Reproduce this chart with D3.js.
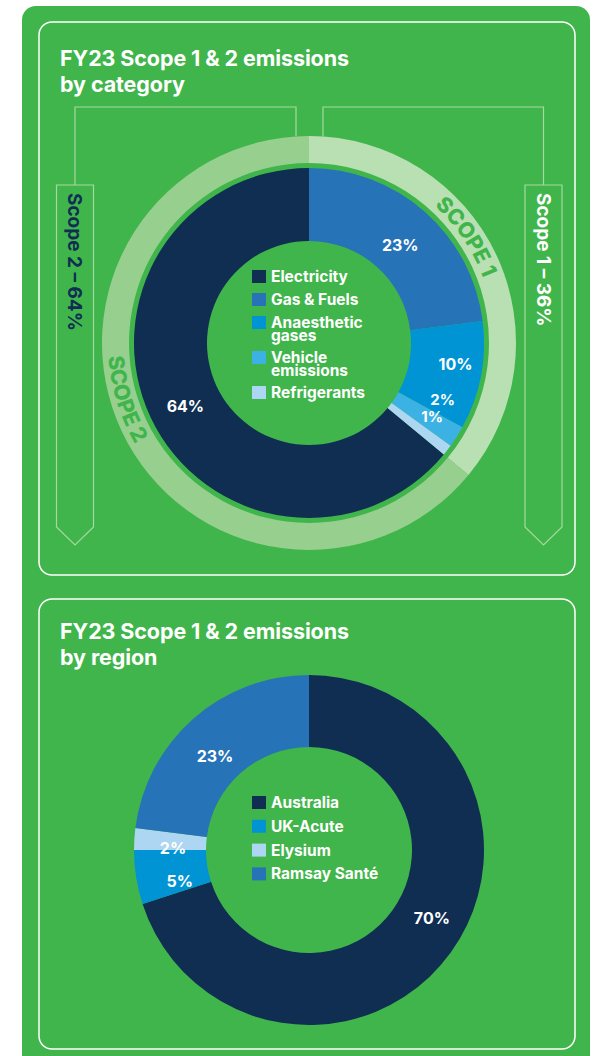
<!DOCTYPE html>
<html>
<head>
<meta charset="utf-8">
<script src="https://cdn.jsdelivr.net/npm/d3@7"></script>
<style>
  html, body { margin: 0; padding: 0; background: #ffffff; }
  svg { display: block; }
  text, textPath, tspan { font-family: Inter, "Open Sans", sans-serif; font-weight: 700; }
</style>
</head>
<body>
<svg id="chart" width="600" height="1056"></svg>
<script>
// ---------- DATA ----------
const titleLines1 = ["FY23 Scope 1 & 2 emissions", "by category"];
const categories = ["Electricity", "Gas & Fuels", "Anaesthetic gases", "Vehicle emissions", "Refrigerants"];
const categoryValues = [64, 23, 10, 2, 1];
const scopes = ["Scope 1", "Scope 2"];
const scopeValues = [36, 64];
const scopeRingLabels = ["SCOPE 1", "SCOPE 2"];
const scopeSideLabels = ["Scope 1 – 36%", "Scope 2 – 64%"];

const titleLines2 = ["FY23 Scope 1 & 2 emissions", "by region"];
const regions = ["Australia", "UK-Acute", "Elysium", "Ramsay Santé"];
const regionValues = [70, 5, 2, 23];

// ---------- STYLE / LAYOUT ----------
const GREEN = "#40b54b";
const NAVY = "#0f2e52";
const catColors = [NAVY, "#2673b8", "#0094d4", "#3cb1e4", "#acd6f1"];
const regionColors = [NAVY, "#0094d4", "#acd6f1", "#2673b8"];
const scopeColors = ["#b9e0b2", "#97cf8f"];
const legendWrap = { "Anaesthetic gases": ["Anaesthetic", "gases"], "Vehicle emissions": ["Vehicle", "emissions"] };
// label placement: [angle shift in degrees from centroid, radius, font size]
const catLabelPos = [[-2, 139, 16], [1.5, 134, 16], [-2.6, 148, 16], [-9.6, 145, 15], [-6.9, 143.6, 15]];
const regionLabelPos = [[-7, 140.5, 16], [-4.8, 133, 16], [-2.9, 136, 16], [-3.6, 133, 16]];

const svg = d3.select("#chart");
const rad = d => d * Math.PI / 180;

// Outer green panel
svg.append("rect").attr("x", 22).attr("y", 6).attr("width", 568).attr("height", 1070)
  .attr("rx", 14).attr("fill", GREEN);

// Inner white-bordered panels
[[39, 22, 536, 553], [39, 599, 536, 450]].forEach(p => {
  svg.append("rect").attr("x", p[0]).attr("y", p[1]).attr("width", p[2]).attr("height", p[3])
    .attr("rx", 13).attr("fill", "none").attr("stroke", "#ffffff").attr("stroke-width", 1.5);
});

function title(lines, x, y) {
  const t = svg.append("text").attr("x", x).attr("y", y).attr("fill", "#fff")
    .attr("font-size", 21.5).attr("letter-spacing", -0.1);
  lines.forEach((l, i) => t.append("tspan").attr("x", x).attr("dy", i === 0 ? 0 : 26).text(l));
}
title(titleLines1, 60, 66);
title(titleLines2, 60, 639);

// ---------- CHART 1 ----------
const c1 = { x: 309, y: 343 };
const g1 = svg.append("g").attr("transform", `translate(${c1.x},${c1.y})`);

// brackets
const lineCol = "#a6d9a0";
const brackets = [
  { inner: -13, outer: -234 },
  { inner: 14, outer: 234.5 }
];
brackets.forEach(b => {
  const xi = b.inner, xo = b.outer;
  g1.append("path")
    .attr("d", `M${xi},${-207} V${-236} H${xo} V${-158}`)
    .attr("fill", "none").attr("stroke", lineCol).attr("stroke-width", 1.2);
  const hw = 18.5;
  g1.append("path")
    .attr("d", `M${xo - hw},${-158} H${xo + hw} V${184} L${xo},${202} L${xo - hw},${184} Z`)
    .attr("fill", "none").attr("stroke", lineCol).attr("stroke-width", 1.2);
});

// side labels (rotated)
const sideX = [234.5, -234];
const sideFill = ["#ffffff", NAVY];
scopeSideLabels.forEach((s, i) => {
  g1.append("text")
    .attr("transform", `translate(${sideX[i] - 7},${-150}) rotate(90)`)
    .attr("font-size", 19).attr("fill", sideFill[i])
    .text(s);
});

// scope ring
const scopePie = d3.pie().sort(null).value(d => d)(scopeValues);
const ringArc = d3.arc().innerRadius(180).outerRadius(207);
g1.selectAll("path.ring").data(scopePie).join("path").attr("class", "ring")
  .attr("d", ringArc).attr("fill", (d, i) => scopeColors[i]);

// ring labels along arcs
function arcPath(r, a0, a1, cw) {
  const p0 = [r * Math.sin(a0), -r * Math.cos(a0)];
  const p1 = [r * Math.sin(a1), -r * Math.cos(a1)];
  const large = Math.abs(a1 - a0) > Math.PI ? 1 : 0;
  return `M${p0[0]},${p0[1]} A${r},${r} 0 ${large} ${cw ? 1 : 0} ${p1[0]},${p1[1]}`;
}
scopePie.forEach((d, i) => {
  const mid = i === 0 ? rad(56) : rad(253);
  const cw = i === 0;
  const r = cw ? 186 : 201;
  const span = rad(60);
  const id = "scopePath" + i;
  g1.append("path").attr("id", id).attr("fill", "none")
    .attr("d", cw ? arcPath(r, mid - span, mid + span, true) : arcPath(r, mid + span, mid - span, false));
  g1.append("text").attr("font-size", 21.5).attr("fill", GREEN)
    .style("font-weight", 800)
    .append("textPath").attr("href", "#" + id).attr("startOffset", "50%").attr("text-anchor", "middle")
    .style("font-weight", 800)
    .text(scopeRingLabels[i]);
});

// category donut: Electricity starts after Scope 1 items
const catStart = rad(360 * (100 - categoryValues[0]) / 100);
const catPie = d3.pie().sort(null).value(d => d).startAngle(catStart).endAngle(catStart + 2 * Math.PI)(categoryValues);
const catArc = d3.arc().innerRadius(102).outerRadius(175);
g1.selectAll("path.cat").data(catPie).join("path").attr("class", "cat")
  .attr("d", catArc).attr("fill", (d, i) => catColors[i]);

function labelXY(d, pos) {
  const a = (d.startAngle + d.endAngle) / 2 + rad(pos[0]);
  return [pos[1] * Math.sin(a), -pos[1] * Math.cos(a)];
}
g1.selectAll("text.pct").data(catPie).join("text").attr("class", "pct")
  .attr("x", (d, i) => labelXY(d, catLabelPos[i])[0])
  .attr("y", (d, i) => labelXY(d, catLabelPos[i])[1])
  .attr("dy", "0.36em").attr("text-anchor", "middle")
  .attr("font-size", (d, i) => catLabelPos[i][2]).attr("fill", "#fff")
  .text(d => d.data + "%");

// legend 1
let ly = 270 - c1.y;
categories.forEach((c, i) => {
  const lines = legendWrap[c] || [c];
  g1.append("rect").attr("x", 252 - c1.x).attr("y", ly).attr("width", 14).attr("height", 13).attr("fill", catColors[i]);
  const t = g1.append("text").attr("x", 271 - c1.x).attr("y", ly + 12).attr("font-size", 15.5).attr("fill", "#fff");
  lines.forEach((l, j) => t.append("tspan").attr("x", 271 - c1.x).attr("dy", j === 0 ? 0 : 13).text(l));
  ly += 23 + 12 * (lines.length - 1);
});

// ---------- CHART 2 ----------
const c2 = { x: 309, y: 850 };
const g2 = svg.append("g").attr("transform", `translate(${c2.x},${c2.y})`);
const regPie = d3.pie().sort(null).value(d => d)(regionValues);
const regArc = d3.arc().innerRadius(103).outerRadius(175);
g2.selectAll("path.reg").data(regPie).join("path").attr("class", "reg")
  .attr("d", regArc).attr("fill", (d, i) => regionColors[i]);
g2.selectAll("text.pct").data(regPie).join("text").attr("class", "pct")
  .attr("x", (d, i) => labelXY(d, regionLabelPos[i])[0])
  .attr("y", (d, i) => labelXY(d, regionLabelPos[i])[1])
  .attr("dy", "0.36em").attr("text-anchor", "middle")
  .attr("font-size", (d, i) => regionLabelPos[i][2]).attr("fill", "#fff")
  .text(d => d.data + "%");

regions.forEach((r, i) => {
  const y = 796 + i * 23.8 - c2.y;
  g2.append("rect").attr("x", 252 - c2.x).attr("y", y).attr("width", 14).attr("height", 13).attr("fill", regionColors[i]);
  g2.append("text").attr("x", 271 - c2.x).attr("y", y + 12).attr("font-size", 15.5).attr("fill", "#fff").text(r);
});
</script>
</body>
</html>
